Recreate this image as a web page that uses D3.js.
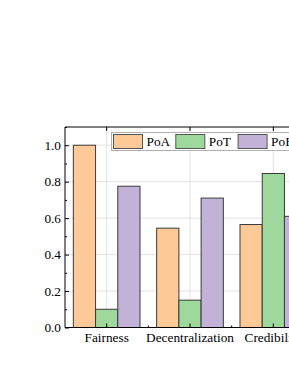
<!DOCTYPE html>
<html><head><meta charset="utf-8">
<script src="https://cdn.jsdelivr.net/npm/d3@7"></script>
<style>body{margin:0;background:#fff}svg{display:block}</style>
</head><body>
<svg id="c" width="289" height="374"></svg>
<script>
const categories = ["Fairness", "Decentralization", "Credibility"];
const series = ["PoA", "PoT", "PoE"];
const PoA = [1.0, 0.545, 0.565];
const PoT = [0.10, 0.15, 0.845];
const PoE = [0.775, 0.71, 0.61];
const colors = ["#fdc996", "#9fd89d", "#c2b2d8"];
const yTicks = [0.0, 0.2, 0.4, 0.6, 0.8, 1.0];
const yMinor = [0.1, 0.3, 0.5, 0.7, 0.9, 1.1];

const values = [PoA, PoT, PoE];
const svg = d3.select("#c");
const font = "'Liberation Serif', 'Times New Roman', serif";
const fs = 13.3;
const L = 65, R = 315, T = 127, B = 327.5;

const x = d3.scaleBand().domain(categories).range([L, R]).padding(0);
const bw = x.bandwidth();
const x1 = d3.scaleBand().domain(series).range([bw * 0.1, bw * 0.9]).padding(0);
const y = d3.scaleLinear().domain([0, 1.1]).range([B, T]);

// grid
const g = svg.append("g");
g.selectAll(".hg").data(yTicks.slice(1)).join("line")
  .attr("x1", L).attr("x2", R).attr("y1", d => y(d)).attr("y2", d => y(d))
  .attr("stroke", "#e3e3e3").attr("stroke-width", 1);
g.selectAll(".vg").data(categories).join("line")
  .attr("x1", d => x(d) + bw / 2).attr("x2", d => x(d) + bw / 2)
  .attr("y1", T).attr("y2", B)
  .attr("stroke", "#e3e3e3").attr("stroke-width", 1);

// bars
const rows = [];
categories.forEach((c, i) => series.forEach((s, j) => rows.push({c, s, j, v: values[j][i]})));
svg.append("g").selectAll("rect").data(rows).join("rect")
  .attr("x", d => x(d.c) + x1(d.s))
  .attr("y", d => y(d.v))
  .attr("width", x1.bandwidth())
  .attr("height", d => y(0) - y(d.v))
  .attr("fill", d => colors[d.j])
  .attr("stroke", "#3a3a3a").attr("stroke-width", 1);

// axes
const yAxis = d3.axisLeft(y).tickValues(yTicks).tickFormat(d3.format(".1f")).tickSize(-4).tickPadding(4);
const ya = svg.append("g").attr("transform", `translate(${L},0)`).call(yAxis);
ya.select(".domain").remove();
ya.selectAll("text").attr("font-family", font).attr("font-size", fs).attr("fill", "#000");
ya.selectAll("line").attr("stroke", "#000");
svg.append("g").attr("transform", `translate(${L},0)`)
  .call(d3.axisLeft(y).tickValues(yMinor).tickSize(-2).tickFormat(""))
  .call(s => s.select(".domain").remove())
  .selectAll("line").attr("stroke", "#000");

const xAxis = d3.axisBottom(x).tickSize(-4).tickPadding(5);
const xa = svg.append("g").attr("transform", `translate(0,${B})`).call(xAxis);
xa.select(".domain").remove();
xa.selectAll("text").attr("font-family", font).attr("font-size", fs).attr("fill", "#000");
xa.selectAll("line").attr("stroke", "#000");
// minor ticks at band boundaries
svg.append("g").selectAll("line").data(categories.slice(1)).join("line")
  .attr("x1", d => x(d)).attr("x2", d => x(d)).attr("y1", B).attr("y2", B - 2).attr("stroke", "#000");
// top ticks
svg.append("g").selectAll("line").data(categories).join("line")
  .attr("x1", d => x(d) + bw / 2).attr("x2", d => x(d) + bw / 2).attr("y1", T).attr("y2", T + 4).attr("stroke", "#000");

// frame
svg.append("line").attr("x1", L).attr("x2", L).attr("y1", T).attr("y2", B).attr("stroke", "#000");
svg.append("line").attr("x1", L).attr("x2", R).attr("y1", B).attr("y2", B).attr("stroke", "#000");
svg.append("line").attr("x1", L).attr("x2", R).attr("y1", T).attr("y2", T).attr("stroke", "#000");
svg.append("line").attr("x1", R).attr("x2", R).attr("y1", T).attr("y2", B).attr("stroke", "#000");

// legend
const lg = svg.append("g").attr("transform", "translate(111.5,132.5)");
lg.append("rect").attr("width", 205).attr("height", 18).attr("fill", "#fff").attr("stroke", "#b0b0b0");
const step = 62.3;
series.forEach((s, j) => {
  lg.append("rect").attr("x", 2 + j * step).attr("y", 2).attr("width", 29).attr("height", 14)
    .attr("fill", colors[j]).attr("stroke", "#555");
  lg.append("text").attr("x", 35 + j * step).attr("y", 13.5).text(s)
    .attr("font-family", font).attr("font-size", fs).attr("fill", "#000");
});
</script>
</body></html>
